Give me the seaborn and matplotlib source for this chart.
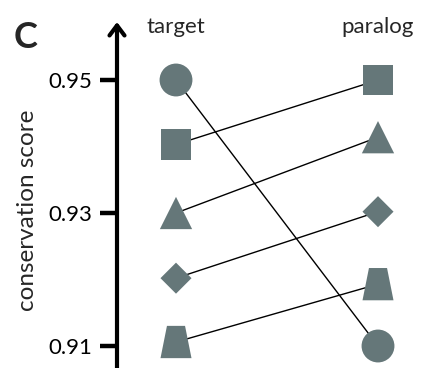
import numpy as np
import pandas as pd
import matplotlib
matplotlib.use("Agg")
import matplotlib.pyplot as plt
from matplotlib.path import Path
import seaborn as sns

# data
shapes = ["circle", "square", "triangle", "diamond", "trapezoid"]
target_scores = [0.950, 0.9403, 0.9300, 0.9202, 0.9106]
paralog_scores = [0.910, 0.950, 0.9414, 0.9302, 0.9193]
groups = ["target", "paralog"]
yticks = [0.91, 0.93, 0.95]

rows = []
for sh, t, p in zip(shapes, target_scores, paralog_scores):
    rows.append({"shape": sh, "group": "target", "pos": 0, "score": t})
    rows.append({"shape": sh, "group": "paralog", "pos": 1, "score": p})
df = pd.DataFrame(rows)

trap = Path([(-0.28, 0.5), (0.28, 0.5), (0.48, -0.5), (-0.48, -0.5), (-0.28, 0.5)],
            [Path.MOVETO, Path.LINETO, Path.LINETO, Path.LINETO, Path.CLOSEPOLY])
markers = {"circle": "o", "square": "s", "triangle": "^", "diamond": "D", "trapezoid": trap}
sizes = {"circle": 560, "square": 470, "triangle": 540, "diamond": 250, "trapezoid": 540}
grey = "#657779"

sns.set_theme(style="white")
plt.rcParams["font.family"] = ["Lato", "DejaVu Sans"]

fig = plt.figure(figsize=(4.22, 3.68), dpi=100)
ax = fig.add_axes([117 / 422, 0, 305 / 422, 346 / 368])

sns.lineplot(data=df, x="pos", y="score", units="shape", estimator=None,
             color="black", lw=1.0, ax=ax, legend=False, zorder=1)
sns.scatterplot(data=df, x="pos", y="score", style="shape", markers=markers,
                size="shape", sizes=sizes, color=grey, edgecolor="none",
                linewidth=0, ax=ax, legend=False, zorder=3)

# px mapping: 0.95 at 80px, 0.91 at 346px from top
ppu = (346 - 80) / 0.04
ax.set_ylim(0.91 - 22 / ppu, 0.95 + 58 / ppu)
ax.set_xlim(-59 / 202, 1 + 44 / 202)
ax.set_yticks(yticks)
ax.set_yticklabels([f"{v:.2f}" for v in yticks], fontsize=16)
ax.set_xticks([])
ax.set_xlabel("")
ax.set_ylabel("conservation score", fontsize=17.5)
ax.yaxis.set_label_coords(-0.26, 0.457)
ax.tick_params(axis="y", left=True, length=12, width=3.2, pad=6, color="black", labelcolor="black")
for s in ["top", "right", "bottom", "left"]:
    ax.spines[s].set_visible(False)
ax.annotate("", xy=(0, 1.0), xytext=(0, -0.02), xycoords="axes fraction",
            arrowprops=dict(arrowstyle="->,head_width=0.45,head_length=0.6",
                            lw=3, color="black", shrinkA=0, shrinkB=0))

for i, g in enumerate(groups):
    ax.text(i, 0.95 + 53 / ppu, g, ha="center", va="center", fontsize=16)

fig.text(14 / 422, 1 - 38 / 368, "C", fontsize=26, fontweight="bold", ha="left", va="center")

fig.savefig("out.png", dpi=100)
